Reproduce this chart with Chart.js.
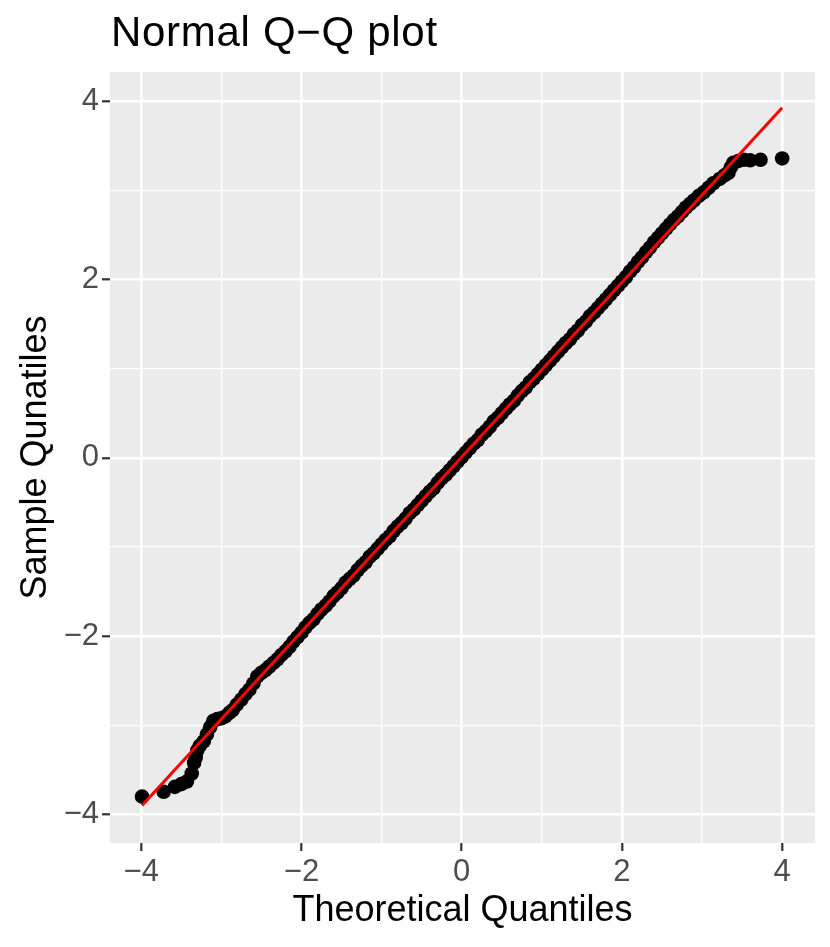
<!DOCTYPE html>
<html>
<head>
<meta charset="utf-8">
<script src="https://cdn.jsdelivr.net/npm/chart.js@4.4.1/dist/chart.umd.min.js"></script>
<style>
  html, body { margin: 0; padding: 0; background: #ffffff; }
  #wrap { position: relative; width: 830px; height: 947px; }
</style>
</head>
<body>
<div id="wrap"><canvas id="chart" width="830" height="947"></canvas></div>
<script>
// Theoretical quantiles (x) and sample quantiles (y)
const theoretical = [
  -3.99, -3.72, -3.58, -3.50, -3.43, -3.37, -3.34, -3.32, -3.30, -3.27,
  -3.22, -3.18, -3.14, -3.10, -3.05, -3.00, -2.95, -2.90, -2.86, -2.81,
  -2.75, -2.70, -2.65, -2.60, -2.55, -2.50, -2.45, -2.40, -2.35, -2.30,
  -2.25, -2.20, -2.15, -2.10, -2.05, -2.00,
  -1.95, -1.90, -1.85, -1.80, -1.75, -1.70, -1.65, -1.60, -1.55, -1.50,
  -1.45, -1.40, -1.35, -1.30, -1.25, -1.20, -1.15, -1.10, -1.05, -1.00,
  -0.95, -0.90, -0.85, -0.80, -0.75, -0.70, -0.65, -0.60, -0.55, -0.50,
  -0.45, -0.40, -0.35, -0.30, -0.25, -0.20, -0.15, -0.10, -0.05, 0.00,
  0.05, 0.10, 0.15, 0.20, 0.25, 0.30, 0.35, 0.40, 0.45, 0.50,
  0.55, 0.60, 0.65, 0.70, 0.75, 0.80, 0.85, 0.90, 0.95, 1.00,
  1.05, 1.10, 1.15, 1.20, 1.25, 1.30, 1.35, 1.40, 1.45, 1.50,
  1.55, 1.60, 1.65, 1.70, 1.75, 1.80, 1.85, 1.90,
  1.95, 2.00, 2.05, 2.10, 2.15, 2.20, 2.25, 2.30, 2.35, 2.40,
  2.45, 2.50, 2.55, 2.60, 2.65, 2.70, 2.75, 2.80, 2.85, 2.90,
  2.96, 3.02, 3.08, 3.14, 3.22, 3.28, 3.33, 3.36, 3.39, 3.45,
  3.52, 3.60, 3.73, 4.00
];
const sample = [
  -3.80, -3.745, -3.69, -3.66, -3.63, -3.54, -3.42, -3.36, -3.28, -3.23,
  -3.18, -3.10, -3.02, -2.95, -2.93, -2.92, -2.90, -2.86, -2.83, -2.77,
  -2.71, -2.65, -2.60, -2.53, -2.45, -2.41, -2.38, -2.34, -2.30, -2.26,
  -2.21, -2.17, -2.12, -2.06, -2.01, -1.96,
  -1.90, -1.85, -1.81, -1.75, -1.70, -1.66, -1.61, -1.55, -1.51, -1.46,
  -1.40, -1.36, -1.32, -1.26, -1.21, -1.17, -1.11, -1.07, -1.02, -0.97,
  -0.92, -0.88, -0.82, -0.77, -0.73, -0.68, -0.62, -0.58, -0.53, -0.48,
  -0.43, -0.38, -0.34, -0.28, -0.23, -0.19, -0.14, -0.09, -0.04, 0.01,
  0.06, 0.11, 0.16, 0.20, 0.26, 0.30, 0.35, 0.41, 0.45, 0.50,
  0.55, 0.60, 0.64, 0.70, 0.75, 0.79, 0.85, 0.89, 0.94, 0.99,
  1.04, 1.09, 1.14, 1.19, 1.24, 1.29, 1.33, 1.39, 1.43, 1.49,
  1.53, 1.59, 1.63, 1.68, 1.73, 1.78, 1.83, 1.88,
  1.93, 1.98, 2.03, 2.09, 2.14, 2.20, 2.25, 2.31, 2.36, 2.42,
  2.47, 2.52, 2.57, 2.62, 2.67, 2.71, 2.76, 2.81, 2.85, 2.89,
  2.94, 2.98, 3.03, 3.08, 3.13, 3.17, 3.20, 3.26, 3.31, 3.33,
  3.345, 3.34, 3.345, 3.36
];

// Reference line (qq line) end points
const lineX = [-3.99, 4.00];
const lineY = [-3.90, 3.93];

// Tick values: majors labelled, odd values are minor grid lines
const tickValues = [-4, -3, -2, -1, 0, 1, 2, 3, 4];

const FONT = "'Liberation Sans', Arial, Helvetica, sans-serif";

const points = theoretical.map((x, i) => ({ x, y: sample[i] }));
const qqLine = lineX.map((x, i) => ({ x, y: lineY[i] }));

const isMajor = (v) => Math.abs(v % 2) < 1e-9;
const fmt = (v) => (isMajor(v) ? (v < 0 ? "\u2212" + Math.abs(v) : String(v)) : "");

// Panel background and text that ggplot puts outside the axes
const panelPlugin = {
  id: "panel",
  beforeDraw(chart) {
    const { ctx, chartArea: a } = chart;
    ctx.save();
    ctx.fillStyle = "#EBEBEB";
    ctx.fillRect(a.left, a.top, a.right - a.left, a.bottom - a.top);
    ctx.restore();
  },
  afterDraw(chart) {
    const { ctx, chartArea: a } = chart;
    ctx.save();
    ctx.fillStyle = "#000000";
    ctx.textBaseline = "alphabetic";

    // Title
    ctx.textAlign = "left";
    ctx.font = `42px ${FONT}`;
    ctx.letterSpacing = "0.7px";
    ctx.fillText("Normal Q\u2212Q plot", 111, 46);
    ctx.letterSpacing = "0px";

    // x axis title
    ctx.textAlign = "center";
    ctx.font = `36px ${FONT}`;
    ctx.fillText("Theoretical Quantiles", (a.left + a.right) / 2, 921);

    // y axis title
    ctx.translate(46, (a.top + a.bottom) / 2);
    ctx.rotate(-Math.PI / 2);
    ctx.fillText("Sample Qunatiles", 0, 0);
    ctx.restore();
  },
};

const axisCommon = (min, max) => ({
  type: "linear",
  min,
  max,
  border: { display: false },
  afterBuildTicks: (scale) => {
    scale.ticks = tickValues.map((value) => ({ value }));
  },
  grid: {
    color: "#FFFFFF",
    lineWidth: (c) => (c.tick && isMajor(c.tick.value) ? 2.6 : 1.3),
    tickColor: (c) => (c.tick && isMajor(c.tick.value) ? "#333333" : "rgba(0,0,0,0)"),
    tickWidth: 2.2,
    tickLength: 8,
  },
  ticks: {
    autoSkip: false,
    maxRotation: 0,
    color: "#4D4D4D",
    font: { family: FONT, size: 31 },
    padding: 3,
    callback: (v) => fmt(v),
  },
});

new Chart(document.getElementById("chart"), {
  data: {
    datasets: [
      {
        type: "scatter",
        data: points,
        backgroundColor: "#000000",
        borderColor: "#000000",
        pointRadius: 7.3,
        pointHoverRadius: 7.3,
        borderWidth: 0,
        order: 2,
      },
      {
        type: "line",
        data: qqLine,
        borderColor: "#FF0000",
        borderWidth: 3,
        pointRadius: 0,
        fill: false,
        order: 1,
      },
    ],
  },
  options: {
    responsive: false,
    animation: false,
    devicePixelRatio: 1,
    layout: { padding: { top: 72, right: 15, left: 0, bottom: 0 } },
    plugins: {
      legend: { display: false },
      tooltip: { enabled: false },
      title: { display: false },
    },
    scales: {
      x: {
        ...axisCommon(-4.39, 4.41),
        afterFit: (scale) => {
          scale.height = 104;
        },
      },
      y: {
        ...axisCommon(-4.32, 4.33),
        afterFit: (scale) => {
          scale.width = 110;
        },
      },
    },
  },
  plugins: [panelPlugin],
});
</script>
</body>
</html>
